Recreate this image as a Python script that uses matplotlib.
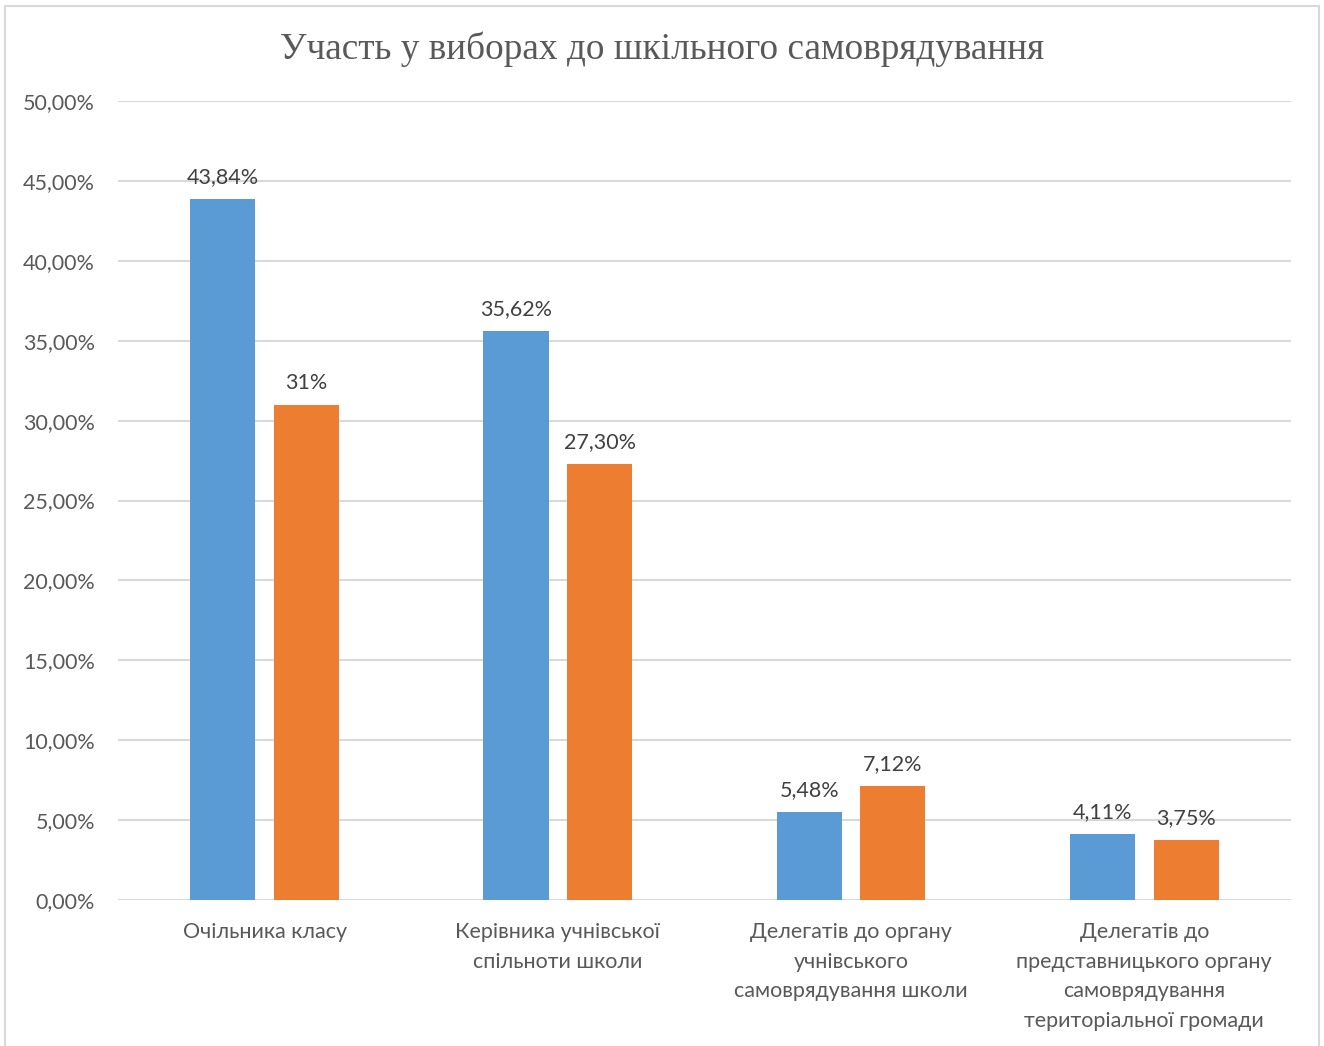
import matplotlib.pyplot as plt
import numpy as np
from matplotlib.patches import Rectangle

# дані
categories = [
    'Очільника класу',
    'Керівника учнівської\nспільноти школи',
    'Делегатів до органу\nучнівського\nсамоврядування школи',
    'Делегатів до\nпредставницького органу\nсамоврядування\nтериторіальної громади',
]
series_a = [43.84, 35.62, 5.48, 4.11]
series_b = [31.0, 27.30, 7.12, 3.75]
labels_a = ['43,84%', '35,62%', '5,48%', '4,11%']
labels_b = ['31%', '27,30%', '7,12%', '3,75%']
yticks = [0, 5, 10, 15, 20, 25, 30, 35, 40, 45, 50]

blue = '#5B9BD5'
orange = '#ED7D31'
grid = '#D9D9D9'
txt = '#595959'
lbl = '#404040'
font = ['Lato', 'DejaVu Sans']
fs = 15.5

fig = plt.figure(figsize=(13.24, 10.46), dpi=100)
fig.patches.append(Rectangle((0.004, -0.01), 0.992, 1.004, transform=fig.transFigure,
                             fill=False, edgecolor='#D9D9D9', linewidth=1.5))
ax = fig.add_axes([0.0891, 0.1396, 0.975 - 0.0891, 0.9034 - 0.1396])

x = np.arange(len(categories))
w = 0.222
off = 0.1425
ba = ax.bar(x - off, series_a, w, color=blue, zorder=3)
bb = ax.bar(x + off, series_b, w, color=orange, zorder=3)

for bars, labs in ((ba, labels_a), (bb, labels_b)):
    for r, s in zip(bars, labs):
        ax.text(r.get_x() + r.get_width() / 2, r.get_height() + 0.75, s,
                ha='center', va='bottom', fontsize=fs, color=lbl, family=font)

ax.set_xlim(-0.5, len(categories) - 0.5)
ax.set_ylim(0, 50)
ax.set_yticks(yticks)
ax.set_yticklabels(['{:.2f}%'.format(v).replace('.', ',') for v in yticks],
                   fontsize=fs, color=txt, family=font)
ax.set_xticks(x)
ax.set_xticklabels(categories, fontsize=fs, color=txt, family=font, linespacing=1.6)
ax.tick_params(axis='x', length=0, pad=16)
ax.tick_params(axis='y', length=0, pad=16.5)
for yv in yticks:
    ax.axhline(yv, color=grid, linewidth=1.5, zorder=1)
for sp in ax.spines.values():
    sp.set_visible(False)

fig.text(0.5, 0.953, 'Участь у виборах до шкільного самоврядування', ha='center',
         va='center', fontsize=26.8, color=txt, family=['Liberation Serif', 'DejaVu Serif'])

fig.savefig('out.png', dpi=100)
